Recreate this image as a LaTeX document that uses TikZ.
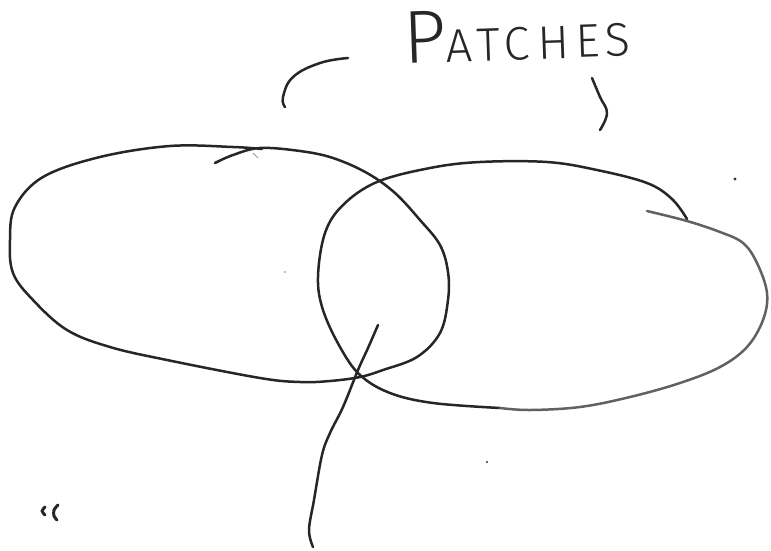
\documentclass[tikz,border=0pt]{standalone}
\usepackage{fontspec}
\newfontfamily\hand{Fira Sans Light}[LetterSpace=13]
\begin{document}
\begin{tikzpicture}[x=1pt,y=-1pt,
  ink/.style={draw=black!85,line width=2.5pt,line cap=round,line join=round},
  paleink/.style={draw=black!62,line width=2.5pt,line cap=round,line join=round},
  speck/.style={fill=black!80,draw=none}]
\useasboundingbox (0,0) rectangle (771,550);
% title
\node[anchor=base west,inner sep=0pt,rotate=2,text=black!85] (title) at (404,64)
  {\hand{\fontsize{75}{75}\selectfont P}{\fontsize{47}{47}\selectfont ATC\,HES}};
% brackets under the title
\draw[ink] plot[smooth,tension=0.7] coordinates {(348,58) (320,63) (293,77) (283,97) (285,107)};
\draw[ink] plot[smooth,tension=0.7] coordinates {(592,78) (600,97) (607,113) (600,130)};
% left patch
\draw[ink] plot[smooth,tension=0.6] coordinates {(215,163) (233,155) (260,148) (300,151) (333,158) (367,173) (395,193) (420,220) (440,245) (448,272) (448,300) (440,333) (417,357) (383,370) (360,377) (330,381) (300,382) (260,378) (167,360) (110,347) (67,330) (33,300) (13,273) (10,240) (15,207) (43,177) (100,157) (170,146) (233,147) (262,149)};
% right patch, first stroke
\draw[ink] plot[smooth,tension=0.6] coordinates {(687,219) (672,199) (647,183) (597,170) (547,162) (480,162) (430,168) (377,182) (343,205) (325,233) (318,277) (323,310) (340,347) (360,375) (390,393) (433,403) (500,408)};
\draw[paleink] plot[smooth,tension=0.6] coordinates {(500,408) (530,410) (580,407) (630,397) (680,383) (720,367) (747,347) (763,320) (767,293) (757,263) (743,243) (720,232) (687,221) (647,211)};
% pointer
\draw[ink] plot[smooth,tension=0.6] coordinates {(378,325) (368,348) (358,370) (343,407) (330,433) (322,455) (314,500) (309,530) (313,547)};
% small marks
\draw[ink,line width=3pt] plot[smooth] coordinates {(45,507) (42,511) (45,515)};
\draw[ink,line width=3pt] plot[smooth] coordinates {(58,505) (54,510) (54,516) (57,520)};
\fill[speck] (735,179) circle (1.6);
\fill[speck] (487,462) circle (1.2);
\fill[black!50] (285,272) circle (0.8);
\draw[black!40,line width=1pt] (253,153) -- (258,158);
\end{tikzpicture}
\end{document}
